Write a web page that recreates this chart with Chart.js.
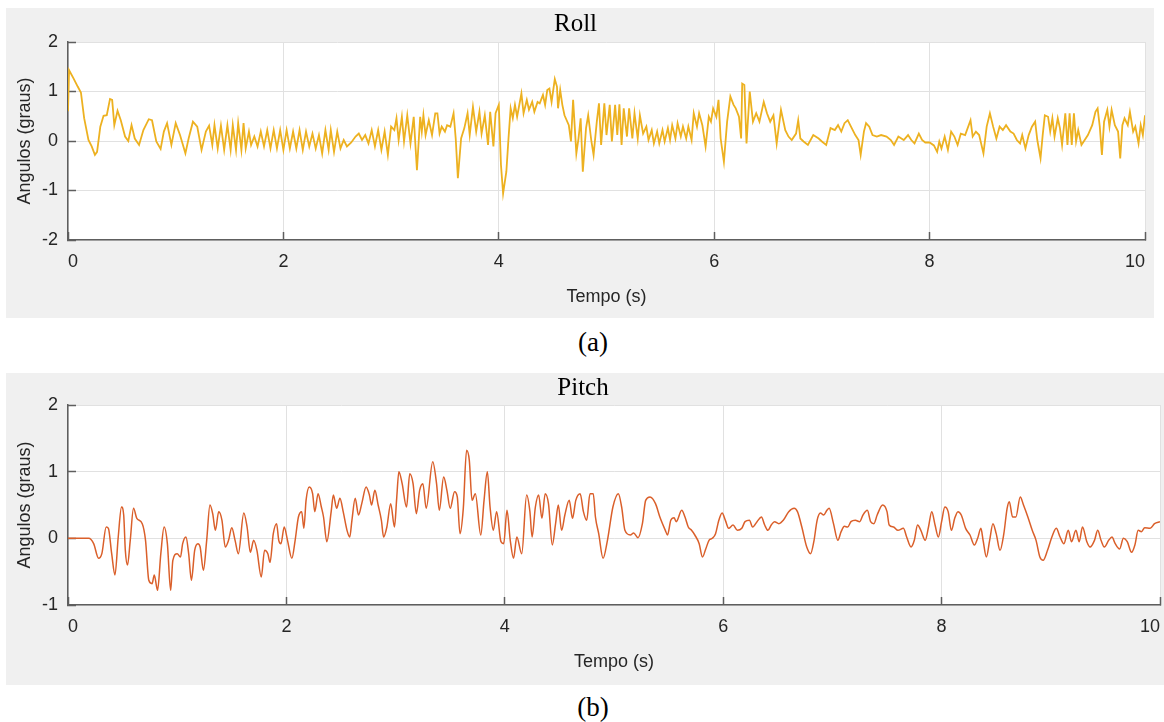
<!DOCTYPE html>
<html>
<head>
<meta charset="utf-8">
<script src="https://cdn.jsdelivr.net/npm/chart.js@4.4.1/dist/chart.umd.min.js"></script>
<style>
    body { margin: 0; width: 1164px; height: 722px; overflow: hidden; position: relative; background: #fff; }
    .panel { position: absolute; background: #f0f0f0; }
    .panel canvas { display: block; }
    .caption { position: absolute; transform: translateX(-50%); font: 27px "Liberation Serif", "Times New Roman", serif; color: #000; line-height: 27px; }
</style>
</head>
<body>
<div class="panel" style="left:6px;top:8px;width:1148px;height:310px"><canvas id="chartRoll" width="1148" height="310"></canvas></div>
<div class="caption" style="left:593px;top:329px">(a)</div>
<div class="panel" style="left:6px;top:373px;width:1158px;height:312px"><canvas id="chartPitch" width="1158" height="312"></canvas></div>
<div class="caption" style="left:593px;top:694px">(b)</div>

<script>
// Roll (a)
const rollTime = [
    0.00, 0.01, 0.05, 0.09, 0.12, 0.15, 0.19, 0.22, 0.25, 0.27, 0.30, 0.33, 0.36, 0.39, 0.41, 0.43, 0.46, 0.49, 0.53, 0.56,
    0.59, 0.62, 0.66, 0.70, 0.75, 0.78, 0.82, 0.86, 0.89, 0.92, 0.96, 1.00, 1.04, 1.09, 1.12, 1.16, 1.20, 1.24, 1.28, 1.31,
    1.34, 1.36, 1.39, 1.42, 1.45, 1.48, 1.51, 1.53, 1.56, 1.58, 1.61, 1.63, 1.65, 1.68, 1.70, 1.73, 1.76, 1.79, 1.82, 1.85,
    1.88, 1.91, 1.94, 1.97, 2.00, 2.03, 2.06, 2.09, 2.12, 2.15, 2.18, 2.21, 2.24, 2.27, 2.30, 2.33, 2.36, 2.39, 2.42, 2.44,
    2.47, 2.50, 2.53, 2.56, 2.59, 2.63, 2.67, 2.70, 2.73, 2.76, 2.79, 2.82, 2.85, 2.88, 2.91, 2.94, 2.97, 3.00, 3.03, 3.05,
    3.07, 3.10, 3.12, 3.15, 3.18, 3.21, 3.24, 3.27, 3.285, 3.30, 3.32, 3.35, 3.38, 3.41, 3.43, 3.45, 3.47, 3.50, 3.52, 3.55,
    3.58, 3.60, 3.62, 3.65, 3.68, 3.71, 3.73, 3.76, 3.79, 3.82, 3.84, 3.87, 3.90, 3.92, 3.95, 3.97, 4.00, 4.02, 4.04, 4.07,
    4.09, 4.11, 4.13, 4.15, 4.17, 4.21, 4.23, 4.26, 4.28, 4.31, 4.33, 4.36, 4.38, 4.41, 4.43, 4.45, 4.47, 4.49, 4.52, 4.54,
    4.55, 4.57, 4.59, 4.61, 4.65, 4.67, 4.69, 4.72, 4.74, 4.76, 4.78, 4.81, 4.83, 4.86, 4.88, 4.91, 4.93, 4.95, 4.98, 5.00,
    5.03, 5.05, 5.08, 5.10, 5.12, 5.14, 5.16, 5.19, 5.21, 5.24, 5.26, 5.29, 5.31, 5.34, 5.37, 5.39, 5.42, 5.44, 5.47, 5.49,
    5.52, 5.54, 5.57, 5.59, 5.61, 5.64, 5.66, 5.69, 5.71, 5.74, 5.76, 5.79, 5.81, 5.84, 5.86, 5.89, 5.92, 5.95, 5.97, 5.99,
    6.02, 6.04, 6.06, 6.09, 6.12, 6.15, 6.18, 6.20, 6.23, 6.25, 6.26, 6.28, 6.30, 6.33, 6.36, 6.39, 6.42, 6.46, 6.49, 6.52,
    6.55, 6.58, 6.62, 6.66, 6.69, 6.72, 6.76, 6.78, 6.80, 6.83, 6.87, 6.92, 6.97, 7.00, 7.04, 7.08, 7.12, 7.15, 7.18, 7.21,
    7.24, 7.27, 7.31, 7.34, 7.36, 7.39, 7.41, 7.44, 7.47, 7.51, 7.55, 7.60, 7.64, 7.67, 7.71, 7.76, 7.80, 7.83, 7.86, 7.90,
    7.93, 7.96, 8.00, 8.04, 8.07, 8.09, 8.11, 8.14, 8.17, 8.20, 8.23, 8.26, 8.29, 8.33, 8.38, 8.40, 8.43, 8.46, 8.50, 8.53,
    8.56, 8.59, 8.62, 8.65, 8.68, 8.71, 8.75, 8.78, 8.81, 8.84, 8.86, 8.89, 8.92, 8.95, 8.98, 9.00, 9.03, 9.05, 9.07, 9.10,
    9.12, 9.14, 9.16, 9.19, 9.21, 9.23, 9.26, 9.28, 9.30, 9.32, 9.34, 9.36, 9.38, 9.41, 9.44, 9.47, 9.49, 9.51, 9.54, 9.56,
    9.58, 9.60, 9.62, 9.65, 9.67, 9.69, 9.72, 9.75, 9.77, 9.79, 9.81, 9.84, 9.86, 9.89, 9.91, 9.94, 9.96, 9.98, 10.00
];
const rollAngle = [
    0.60, 1.43, 1.27, 1.10, 0.98, 0.46, 0.02, -0.11, -0.28, -0.22, 0.29, 0.51, 0.52, 0.85, 0.83, 0.32, 0.61, 0.42, 0.09, 0.00,
    0.32, 0.05, -0.08, 0.22, 0.44, 0.42, -0.01, -0.16, 0.19, 0.36, -0.08, 0.36, 0.12, -0.25, 0.05, 0.39, 0.29, -0.18, 0.19, 0.31,
    -0.08, 0.32, -0.15, 0.31, -0.18, 0.32, -0.18, 0.32, -0.18, 0.36, -0.18, 0.36, -0.15, 0.19, -0.08, 0.09, -0.11, 0.19, -0.11, 0.22,
    -0.15, 0.22, -0.15, 0.22, -0.18, 0.22, -0.15, 0.19, -0.15, 0.22, -0.18, 0.19, -0.11, 0.15, -0.15, 0.12, -0.25, 0.22, -0.18, 0.22,
    -0.22, 0.19, -0.15, 0.02, -0.11, -0.03, 0.09, 0.15, 0.02, 0.12, -0.05, 0.22, -0.11, 0.22, -0.18, 0.19, -0.28, 0.29, 0.22, 0.46,
    0.02, 0.49, -0.01, 0.52, -0.05, 0.49, -0.59, 0.49, 0.19, 0.52, 0.12, 0.42, 0.12, 0.56, 0.56, 0.15, 0.29, 0.19, 0.32, 0.29,
    0.56, 0.05, -0.75, 0.05, 0.26, 0.56, 0.12, 0.69, 0.19, 0.59, 0.15, 0.52, -0.08, 0.59, -0.11, 0.56, 0.73, -0.48, -1.06, -0.62,
    0.05, 0.66, 0.46, 0.73, 0.49, 0.96, 0.56, 0.83, 0.63, 0.79, 0.59, 0.79, 0.76, 0.93, 0.73, 1.03, 1.06, 0.79, 1.25, 1.10,
    0.66, 1.03, 0.73, 0.52, 0.32, -0.01, 0.83, -0.25, 0.05, 0.46, -0.62, 0.26, 0.52, -0.01, -0.28, 0.39, 0.76, -0.08, 0.76, 0.12,
    0.73, -0.01, 0.73, 0.12, 0.74, -0.08, 0.66, 0.09, 0.66, 0.05, 0.56, 0.05, 0.52, 0.15, 0.29, 0.02, 0.22, -0.05, 0.19, -0.05,
    0.22, -0.01, 0.26, 0.02, 0.32, 0.05, 0.36, 0.09, 0.29, 0.05, 0.29, 0.02, 0.56, 0.29, 0.56, 0.32, -0.11, 0.49, 0.39, 0.66,
    0.49, 0.83, 0.05, -0.42, 0.39, 0.90, 0.73, 0.66, 0.49, 0.05, 1.16, 1.13, -0.05, 1.00, 0.39, 0.56, 0.39, 0.79, 0.56, 0.39,
    0.52, -0.05, 0.63, 0.22, 0.09, 0.02, 0.15, 0.42, 0.05, -0.01, -0.08, 0.12, 0.05, -0.01, -0.08, 0.26, 0.22, 0.32, 0.19, 0.36,
    0.42, 0.29, 0.12, 0.02, -0.28, 0.19, 0.36, 0.29, 0.12, 0.09, 0.12, 0.09, 0.02, -0.08, 0.09, 0.02, 0.12, 0.02, -0.05, 0.15,
    0.02, -0.03, -0.03, -0.09, -0.22, -0.01, -0.15, 0.09, -0.18, 0.19, 0.09, -0.08, 0.15, 0.12, 0.42, 0.09, 0.19, 0.12, -0.25, 0.29,
    0.56, 0.29, 0.05, 0.29, 0.22, 0.32, 0.19, 0.15, 0.02, -0.05, 0.12, -0.15, 0.12, 0.29, 0.39, 0.02, -0.35, 0.12, 0.52, 0.49,
    0.19, 0.46, 0.09, 0.46, 0.26, -0.08, 0.56, -0.08, 0.56, -0.08, 0.56, -0.01, 0.22, -0.08, 0.02, 0.12, 0.22, 0.32, 0.59, 0.66,
    0.29, -0.28, 0.39, 0.63, 0.29, 0.63, 0.32, 0.19, -0.35, 0.32, 0.46, 0.32, 0.59, 0.19, 0.29, -0.05, 0.32, 0.12, 0.52
];

// Pitch (b)
const pitchTime = [
    0.00, 0.19, 0.235, 0.28, 0.31, 0.35, 0.37, 0.40, 0.43, 0.46, 0.49, 0.51, 0.525, 0.545, 0.57, 0.60, 0.63, 0.68, 0.71, 0.74,
    0.77, 0.79, 0.82, 0.85, 0.88, 0.91, 0.94, 0.96, 1.00, 1.03, 1.05, 1.08, 1.105, 1.13, 1.16, 1.19, 1.21, 1.24, 1.27, 1.30,
    1.325, 1.35, 1.38, 1.41, 1.44, 1.47, 1.50, 1.53, 1.56, 1.61, 1.64, 1.67, 1.70, 1.73, 1.77, 1.80, 1.83, 1.85, 1.88, 1.91,
    1.93, 1.95, 1.98, 2.01, 2.05, 2.08, 2.11, 2.14, 2.16, 2.18, 2.21, 2.24, 2.26, 2.29, 2.32, 2.34, 2.37, 2.41, 2.43, 2.46,
    2.49, 2.52, 2.555, 2.58, 2.60, 2.63, 2.66, 2.69, 2.73, 2.76, 2.78, 2.81, 2.84, 2.87, 2.89, 2.92, 2.955, 2.99, 3.01, 3.03,
    3.06, 3.10, 3.13, 3.16, 3.19, 3.22, 3.25, 3.28, 3.34, 3.375, 3.40, 3.44, 3.47, 3.50, 3.54, 3.565, 3.59, 3.62, 3.65, 3.675,
    3.70, 3.73, 3.78, 3.81, 3.84, 3.865, 3.895, 3.925, 3.965, 3.99, 4.02, 4.05, 4.08, 4.11, 4.155, 4.20, 4.23, 4.25, 4.28, 4.31,
    4.34, 4.37, 4.40, 4.435, 4.465, 4.49, 4.52, 4.55, 4.59, 4.62, 4.65, 4.69, 4.72, 4.75, 4.78, 4.81, 4.83, 4.86, 4.90, 4.94,
    4.99, 5.04, 5.07, 5.10, 5.15, 5.18, 5.22, 5.26, 5.29, 5.33, 5.38, 5.42, 5.47, 5.49, 5.52, 5.55, 5.57, 5.62, 5.65, 5.68,
    5.71, 5.74, 5.78, 5.81, 5.84, 5.87, 5.90, 5.93, 5.96, 5.99, 6.02, 6.05, 6.09, 6.13, 6.17, 6.20, 6.24, 6.27, 6.31, 6.35,
    6.38, 6.41, 6.44, 6.47, 6.51, 6.55, 6.60, 6.65, 6.68, 6.72, 6.765, 6.80, 6.83, 6.86, 6.89, 6.92, 6.95, 6.97, 7.01, 7.05,
    7.08, 7.11, 7.14, 7.17, 7.21, 7.25, 7.28, 7.32, 7.35, 7.38, 7.41, 7.46, 7.50, 7.52, 7.56, 7.60, 7.65, 7.68, 7.72, 7.75,
    7.78, 7.81, 7.85, 7.88, 7.91, 7.94, 7.97, 8.00, 8.03, 8.06, 8.09, 8.12, 8.15, 8.18, 8.22, 8.26, 8.30, 8.33, 8.36, 8.38,
    8.41, 8.44, 8.47, 8.50, 8.535, 8.57, 8.60, 8.62, 8.65, 8.68, 8.72, 8.75, 8.79, 8.83, 8.865, 8.90, 8.93, 8.97, 9.01, 9.05,
    9.085, 9.12, 9.16, 9.19, 9.23, 9.26, 9.29, 9.33, 9.36, 9.40, 9.43, 9.46, 9.49, 9.53, 9.56, 9.59, 9.63, 9.665, 9.70, 9.74,
    9.77, 9.80, 9.83, 9.86, 9.91, 9.95, 10.00
];
const pitchAngle = [
    0.00, 0.00, -0.08, -0.30, -0.23, 0.17, 0.15, -0.23, -0.55, 0.02, 0.47, 0.35, -0.18, -0.40, -0.03, 0.45, 0.30, 0.22, -0.03, -0.63,
    -0.68, -0.55, -0.78, -0.23, 0.17, -0.08, -0.78, -0.33, -0.23, -0.28, -0.08, 0.02, -0.23, -0.63, -0.18, -0.08, -0.13, -0.48, -0.03, 0.50,
    0.37, 0.12, 0.40, 0.27, -0.13, -0.03, 0.16, -0.03, -0.23, 0.38, 0.17, -0.21, -0.03, -0.18, -0.58, -0.18, -0.23, -0.36, 0.07, 0.22,
    -0.03, -0.08, 0.17, -0.03, -0.30, -0.03, 0.32, 0.40, 0.15, 0.57, 0.77, 0.67, 0.40, 0.67, 0.47, 0.32, -0.05, 0.40, 0.65, 0.45,
    0.60, 0.40, 0.12, 0.02, 0.27, 0.60, 0.35, 0.52, 0.77, 0.65, 0.50, 0.72, 0.50, 0.27, 0.02, 0.17, 0.52, 0.17, 0.60, 1.00,
    0.82, 0.47, 0.97, 0.82, 0.37, 0.72, 0.82, 0.45, 1.15, 0.82, 0.42, 0.92, 0.72, 0.45, 0.70, 0.62, 0.07, 0.45, 1.32, 1.17,
    0.57, 0.67, 0.05, 0.57, 1.00, 0.47, 0.12, 0.40, -0.05, -0.08, 0.42, -0.03, -0.30, 0.02, -0.23, 0.65, 0.40, 0.02, 0.47, 0.65,
    0.30, 0.67, 0.52, -0.10, 0.22, 0.50, 0.12, 0.35, 0.57, 0.30, 0.57, 0.67, 0.40, 0.27, 0.67, 0.67, 0.32, 0.07, -0.30, -0.03,
    0.47, 0.67, 0.47, 0.12, 0.05, 0.08, 0.01, 0.22, 0.57, 0.62, 0.52, 0.32, 0.12, 0.05, 0.27, 0.31, 0.25, 0.42, 0.32, 0.17,
    0.12, 0.05, -0.08, -0.28, -0.16, -0.03, 0.00, 0.07, 0.27, 0.38, 0.27, 0.15, 0.20, 0.12, 0.15, 0.25, 0.27, 0.17, 0.25, 0.32,
    0.20, 0.12, 0.20, 0.25, 0.22, 0.27, 0.40, 0.45, 0.40, 0.17, -0.13, -0.23, -0.05, 0.27, 0.38, 0.35, 0.42, 0.45, 0.22, -0.03,
    0.10, 0.18, 0.17, 0.25, 0.27, 0.25, 0.35, 0.42, 0.25, 0.22, 0.35, 0.50, 0.40, 0.20, 0.17, 0.12, 0.15, 0.02, -0.13, -0.03,
    0.20, 0.12, -0.03, 0.17, 0.40, 0.20, 0.02, 0.25, 0.47, 0.40, 0.12, 0.30, 0.40, 0.35, 0.15, 0.05, -0.10, 0.00, 0.15, -0.03,
    -0.28, -0.03, 0.22, 0.07, -0.18, 0.07, 0.45, 0.55, 0.32, 0.32, 0.62, 0.50, 0.32, 0.12, -0.03, -0.28, -0.33, -0.18, 0.02, 0.15,
    0.02, -0.08, 0.12, -0.05, 0.12, -0.05, 0.17, -0.05, -0.13, -0.03, 0.12, -0.03, -0.13, -0.03, 0.02, -0.08, -0.16, 0.00, -0.05, -0.21,
    -0.10, 0.12, 0.10, 0.16, 0.15, 0.22, 0.25
];

const xTicks = { min: 0, max: 10, step: 2 };
const rollRange = { min: -2, max: 2 };
const pitchRange = { min: -1, max: 2 };

const sansFont = "'Liberation Sans', Arial, sans-serif";
const serifFont = "'Liberation Serif', 'Times New Roman', serif";
const textColor = "#262626";
const gridColor = "#e1e1e1";
const axisColor = "#5e5e5e";

Chart.defaults.font.family = sansFont;

// white plot area on the grey figure background
const plotBackground = {
    id: "plotBackground",
    beforeDraw(chart) {
        const { ctx, chartArea } = chart;
        ctx.save();
        ctx.fillStyle = "#ffffff";
        ctx.fillRect(chartArea.left, chartArea.top, chartArea.width, chartArea.height);
        ctx.restore();
    }
};

function createPanelChart(canvasId, times, values, color, lineWidth, smooth, title, range, sizes) {
    const points = times.map((t, i) => ({ x: t, y: values[i] }));
    return new Chart(document.getElementById(canvasId), {
        type: "line",
        data: {
            datasets: [{
                data: points,
                borderColor: color,
                borderWidth: lineWidth,
                pointRadius: 0,
                tension: smooth ? 0.4 : 0,
                cubicInterpolationMode: smooth ? "monotone" : "default",
                fill: false
            }]
        },
        options: {
            responsive: false,
            animation: false,
            devicePixelRatio: 1,
            layout: { padding: { left: 0, right: sizes.right, top: 0, bottom: 0 } },
            plugins: {
                legend: { display: false },
                tooltip: { enabled: false },
                title: {
                    display: true,
                    text: title,
                    color: "#000",
                    font: { family: serifFont, size: 25, weight: "normal", lineHeight: 1.2 },
                    padding: { top: sizes.titleTop, bottom: sizes.titleBottom }
                }
            },
            scales: {
                x: {
                    type: "linear",
                    min: xTicks.min,
                    max: xTicks.max,
                    afterFit: scale => {
                        scale.height = sizes.xHeight;
                        scale.paddingLeft = 0;
                        scale.paddingRight = 0;
                    },
                    ticks: { stepSize: xTicks.step, color: textColor, font: { size: 18 }, padding: 19, align: "inner", maxRotation: 0 },
                    grid: { color: gridColor, lineWidth: 1, tickLength: -8, tickColor: axisColor, tickWidth: 1.5 },
                    border: { color: axisColor, width: 1.5 },
                    title: { display: true, text: "Tempo (s)", color: textColor, font: { size: 18 }, padding: { top: 0, bottom: sizes.xTitleBottom } }
                },
                y: {
                    min: range.min,
                    max: range.max,
                    afterFit: scale => { scale.width = 62; },
                    ticks: { stepSize: 1, color: textColor, font: { size: 18 }, padding: 18 },
                    grid: { color: gridColor, lineWidth: 1, tickLength: -8, tickColor: axisColor, tickWidth: 1.5 },
                    border: { color: axisColor, width: 1.5 },
                    title: { display: true, text: "Angulos (graus)", color: textColor, font: { size: 18 }, padding: { top: 8, bottom: 0 } }
                }
            }
        },
        plugins: [plotBackground]
    });
}

createPanelChart("chartRoll", rollTime, rollAngle, "#EDB120", 1.8, false, "Roll", rollRange,
    { right: 9, titleTop: 1, titleBottom: 3, xHeight: 78, xTitleBottom: 10 });

createPanelChart("chartPitch", pitchTime, pitchAngle, "#DA5F2A", 1.5, true, "Pitch", pitchRange,
    { right: 4, titleTop: 0, titleBottom: 2, xHeight: 80, xTitleBottom: 12 });
</script>
</body>
</html>
